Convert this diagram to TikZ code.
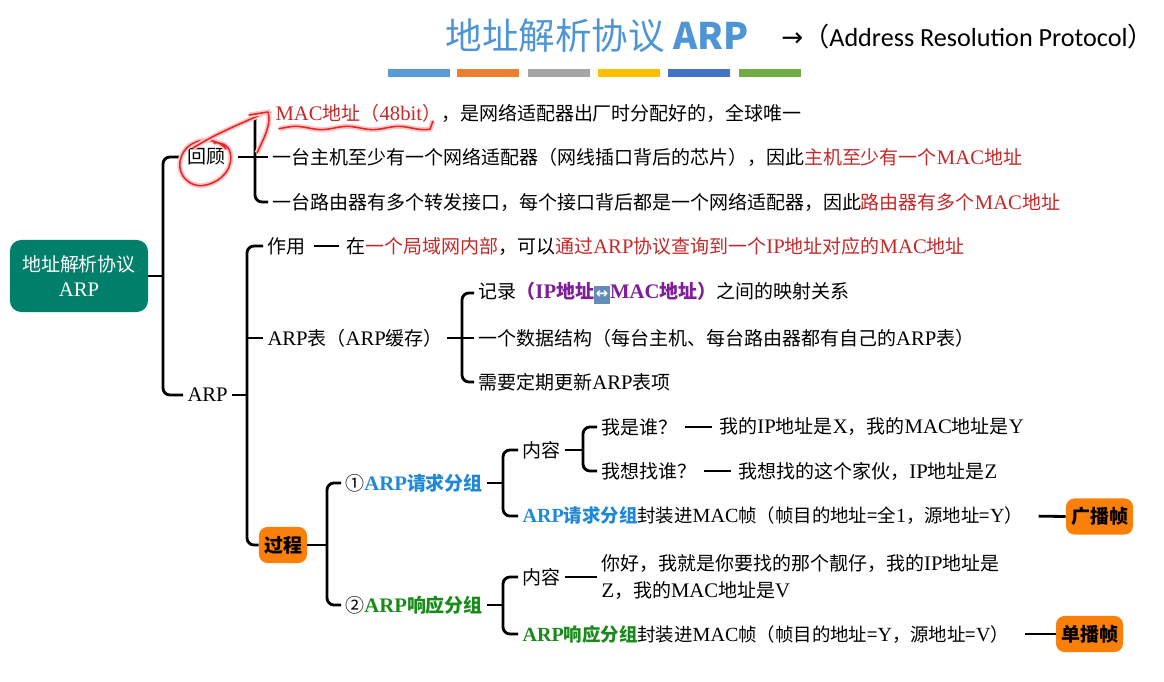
\documentclass[tikz,border=0pt]{standalone}
\usepackage{fontspec}
\setmainfont{Noto Sans CJK SC}
\newfontfamily\en[Scale=1.09]{Liberation Serif}
\newfontfamily\djv{DejaVu Sans}
\newfontfamily\carl{Carlito}
\usetikzlibrary{calc}
\definecolor{tred}{RGB}{196,40,40}
\definecolor{tblue}{RGB}{33,136,214}
\definecolor{tgreen}{RGB}{26,138,26}
\definecolor{tpurple}{RGB}{126,31,153}
\definecolor{torange}{RGB}{250,128,10}
\definecolor{tteal}{RGB}{0,128,106}
\definecolor{ttitle}{RGB}{79,148,212}
\definecolor{emo}{RGB}{100,140,185}
\definecolor{annred}{RGB}{232,36,36}
\definecolor{barA}{RGB}{91,155,213}
\definecolor{barB}{RGB}{237,125,49}
\definecolor{barC}{RGB}{165,165,165}
\definecolor{barD}{RGB}{255,192,0}
\definecolor{barE}{RGB}{68,114,196}
\definecolor{barF}{RGB}{112,173,71}
\newcommand\EN[1]{{\en #1}}
\newcommand\fs{\fontsize{13.5}{19.1}\selectfont}
\newcommand\fsn{\fontsize{13.1}{19.1}\selectfont}
\newcommand\arrowemo{{\setlength\fboxsep{1.3pt}\colorbox{emo}{\textcolor{white}{\djv\fontsize{10.5}{10.5}\selectfont\rule[-2pt]{0pt}{10pt}↔}}}}
\tikzset{
  txt/.style={anchor=west, inner xsep=3pt, inner ysep=1pt, font=\fs},
  ln/.style={line width=2pt},
  br/.style={line width=2pt, rounded corners=5pt},
  obox/.style={fill=torange, rounded corners=6pt, font=\fs\bfseries, inner sep=0pt},
  annot/.style={draw=annred, line width=1.1pt, line cap=round, line join=round,
     preaction={draw=annred!25, line width=3.6pt}},
}
\begin{document}
\begin{tikzpicture}[x=0.025cm, y=-0.025cm]
\useasboundingbox (0,0) rectangle (1164,682);
% title
\node[anchor=center, text=ttitle, font=\fontsize{26}{30}\selectfont] (title) at (597,36) {地址解析协议 \textbf{ARP}};
\node[anchor=west, inner sep=0pt, font=\fontsize{18.6}{22}\selectfont] (sub) at (781,37) {{\djv →}（{\carl Address Resolution Protocol}）};
\fill[barA] (388,69) rectangle (450,77);
\fill[barB] (457,69) rectangle (519,77);
\fill[barC] (528,69) rectangle (590,77);
\fill[barD] (598,69) rectangle (660,77);
\fill[barE] (668,69) rectangle (730,77);
\fill[barF] (739,69) rectangle (801,77);
% root
\node[fill=tteal, rounded corners=8pt, minimum width=3.45cm, minimum height=1.8cm, text=white, align=center, font=\fs] (root) at (79,276) {地址解析协议\\[-1pt]\EN{ARP}};
% level 1
\node[txt] (huigu) at (183,157) {回顾};
\node[txt] (arpn) at (183,395) {\EN{ARP}};
\coordinate (b1) at (163,276);
\draw[ln] (root.east) -- (b1);
\draw[br] (huigu.west) -| (b1) |- (arpn.west);
% review rows
\node[txt] (r1) at (271,113) {\textcolor{tred}{\EN{MAC}地址（\EN{48bit}）}，是网络适配器出厂时分配好的，全球唯一};
\node[txt] (r2) at (268,157) {一台主机至少有一个网络适配器（网线插口背后的芯片），因此\textcolor{tred}{主机至少有一个\EN{MAC}地址}};
\node[txt] (r3) at (268,202) {一台路由器有多个转发接口，每个接口背后都是一个网络适配器，因此\textcolor{tred}{路由器有多个\EN{MAC}地址}};
\coordinate (b2) at (255,157);
\draw[ln, shorten <=6pt] (huigu.east) -- (r2.west);
\draw[br] (r1.west) -| (b2) |- (r3.west);
% ARP branch
\node[txt] (zuoyong) at (263,246) {作用};
\node[txt] (zydesc) at (342,246) {在\textcolor{tred}{一个局域网内部}，可以\textcolor{tred}{通过\EN{ARP}协议查询到一个\EN{IP}地址对应的\EN{MAC}地址}};
\draw[ln, shorten <=3pt, shorten >=2pt] (zuoyong.east) -- (zydesc.west);
\node[txt] (arptab) at (263,338) {\EN{ARP}表（\EN{ARP}缓存）};
\node[obox, minimum width=1.2cm, minimum height=0.9cm] (guocheng) at (283,545) {过程};
\coordinate (b3) at (247,395);
\draw[ln] (arpn.east) -- (b3);
\draw[br] (zuoyong.west) -| (b3) |- (guocheng.west);
\draw[ln] (arptab.west) -- (arptab.west -| b3);
% ARP table
\node[txt] (tab1) at (474,293) {记录\textcolor{tpurple}{\bfseries（\EN{IP}地址\arrowemo\EN{MAC}地址）}之间的映射关系};
\node[txt] (tab2) at (474,338) {一个数据结构（每台主机、每台路由器都有自己的\EN{ARP}表）};
\node[txt] (tab3) at (474,382) {需要定期更新\EN{ARP}表项};
\coordinate (b4) at (462,338);
\draw[ln] (arptab.east) -- (tab2.west);
\draw[br] (tab1.west) -| (b4) |- (tab3.west);
% process
\node[txt] (req) at (341,483) {①\textcolor{tblue}{\bfseries\EN{ARP}请求分组}};
\node[txt] (resp) at (341,605) {②\textcolor{tgreen}{\bfseries\EN{ARP}响应分组}};
\coordinate (b5) at (327,545);
\draw[ln] (guocheng.east) -- (b5);
\draw[br] (req.west) -| (b5) |- (resp.west);
% request
\node[txt] (nr1) at (518,450) {内容};
\node[txt, font=\fsn] (reqenc) at (518,516) {\textcolor{tblue}{\bfseries\EN{ARP}请求分组}封装进\EN{MAC}帧（帧目的地址=全\EN{1}，源地址=\EN{Y}）};
\coordinate (b6) at (503,483);
\draw[ln] (req.east) -- (b6);
\draw[br] (nr1.west) -| (b6) |- (reqenc.west);
\node[txt] (who) at (597,427) {我是谁？};
\node[txt] (whoans) at (715,427) {我的\EN{IP}地址是\EN{X}，我的\EN{MAC}地址是\EN{Y}};
\node[txt] (find) at (597,471) {我想找谁？};
\node[txt] (findans) at (734,471) {我想找的这个家伙，\EN{IP}地址是\EN{Z}};
\coordinate (b7) at (583,450);
\draw[ln] (nr1.east) -- (b7);
\draw[br] (who.west) -| (b7) |- (find.west);
\draw[ln, shorten <=2pt, shorten >=2pt] (who.east) -- (whoans.west);
\draw[ln, shorten <=2pt, shorten >=2pt] (find.east) -- (findans.west);
\node[obox, minimum width=1.675cm, minimum height=0.9cm] (bcast) at (1099.5,516.5) {广播帧};
\draw[ln, shorten <=8pt] (reqenc.east) -- (bcast.west);
% response
\node[txt] (nr2) at (518,577) {内容};
\node[txt, font=\fsn] (respenc) at (518,634) {\textcolor{tgreen}{\bfseries\EN{ARP}响应分组}封装进\EN{MAC}帧（帧目的地址=\EN{Y}，源地址=\EN{V}）};
\coordinate (b8) at (503,605);
\draw[ln] (resp.east) -- (b8);
\draw[br] (nr2.west) -| (b8) |- (respenc.west);
\node[txt, align=left] (nr2ans) at (597,577) {你好，我就是你要找的那个靓仔，我的\EN{IP}地址是\\\EN{Z}，我的\EN{MAC}地址是\EN{V}};
\draw[ln] (nr2.east) -- (nr2ans.west);
\node[obox, minimum width=1.675cm, minimum height=0.9cm] (ucast) at (1089.5,634) {单播帧};
\draw[ln, shorten <=8pt] (respenc.east) -- (ucast.west);
% red hand annotations
\draw[annot] (226,149) .. controls (216,136) and (190,137) .. (182,155)
   .. controls (174,173) and (189,189) .. (206,185)
   .. controls (223,181) and (234,167) .. (230,152)
   .. controls (228,145) and (222,142) .. (214,143);
\draw[annot] (193,148) .. controls (215,134) and (240,124) .. (262,114);
\draw[annot] (249,115) -- (268,112) .. controls (272,124) and (263,140) .. (257,153);
\draw[annot] plot[domain=279:430, samples=50] (\x, {128+1.6*sin(\x*7)}) -- (433,121);
\end{tikzpicture}
\end{document}
